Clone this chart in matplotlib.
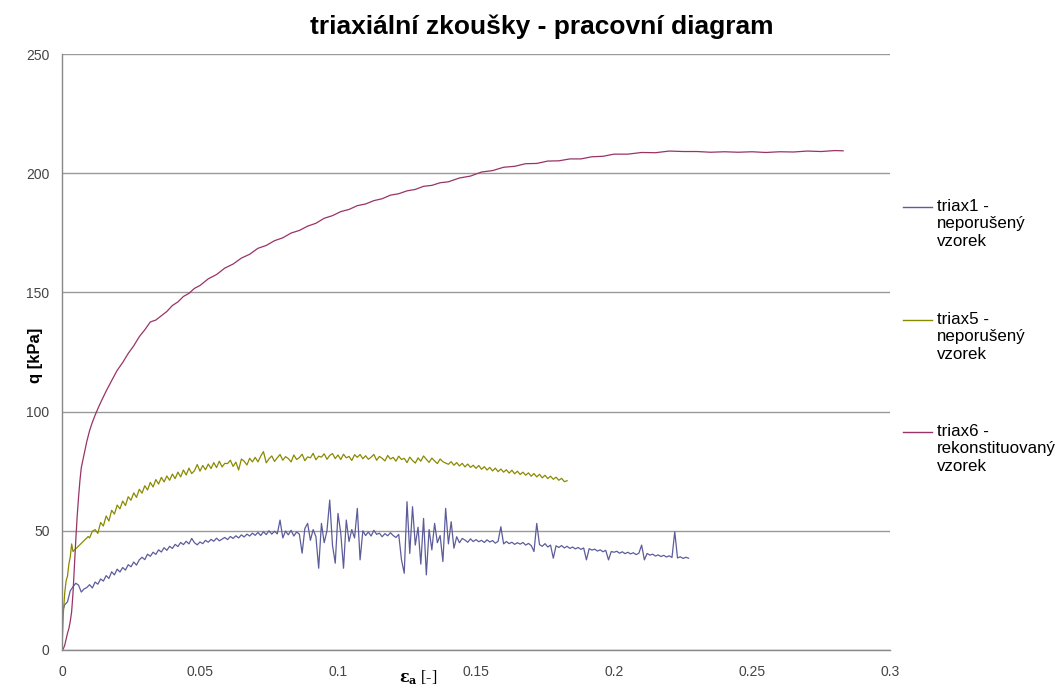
import matplotlib
matplotlib.use("Agg")
import matplotlib.pyplot as plt
from matplotlib.lines import Line2D

plt.rcParams['font.family'] = ['Liberation Sans', 'DejaVu Sans']
plt.rcParams['mathtext.fontset'] = 'dejavuserif'

## triax1 - neporušený vzorek
eps1 = [0.000, 0.001, 0.002, 0.003, 0.004, 0.005, 0.006, 0.007, 0.008, 0.009,
        0.010, 0.011, 0.012, 0.013, 0.014, 0.015, 0.016, 0.017, 0.018, 0.019,
        0.020, 0.021, 0.022, 0.023, 0.024, 0.025, 0.026, 0.027, 0.028, 0.029,
        0.030, 0.031, 0.032, 0.033, 0.034, 0.035, 0.036, 0.037, 0.038, 0.039,
        0.040, 0.041, 0.042, 0.043, 0.044, 0.045, 0.046, 0.047, 0.048, 0.049,
        0.050, 0.051, 0.052, 0.053, 0.054, 0.055, 0.056, 0.057, 0.058, 0.059,
        0.060, 0.061, 0.062, 0.063, 0.064, 0.065, 0.066, 0.067, 0.068, 0.069,
        0.070, 0.071, 0.072, 0.073, 0.074, 0.075, 0.076, 0.077, 0.078, 0.079,
        0.080, 0.081, 0.082, 0.083, 0.084, 0.085, 0.086, 0.087, 0.088, 0.089,
        0.090, 0.091, 0.092, 0.093, 0.094, 0.095, 0.096, 0.097, 0.098, 0.099,
        0.100, 0.101, 0.102, 0.103, 0.104, 0.105, 0.106, 0.107, 0.108, 0.109,
        0.110, 0.111, 0.112, 0.113, 0.114, 0.115, 0.116, 0.117, 0.118, 0.119,
        0.120, 0.121, 0.122, 0.123, 0.124, 0.125, 0.126, 0.127, 0.128, 0.129,
        0.130, 0.131, 0.132, 0.133, 0.134, 0.135, 0.136, 0.137, 0.138, 0.139,
        0.140, 0.141, 0.142, 0.143, 0.144, 0.145, 0.146, 0.147, 0.148, 0.149,
        0.150, 0.151, 0.152, 0.153, 0.154, 0.155, 0.156, 0.157, 0.158, 0.159,
        0.160, 0.161, 0.162, 0.163, 0.164, 0.165, 0.166, 0.167, 0.168, 0.169,
        0.170, 0.171, 0.172, 0.173, 0.174, 0.175, 0.176, 0.177, 0.178, 0.179,
        0.180, 0.181, 0.182, 0.183, 0.184, 0.185, 0.186, 0.187, 0.188, 0.189,
        0.190, 0.191, 0.192, 0.193, 0.194, 0.195, 0.196, 0.197, 0.198, 0.199,
        0.200, 0.201, 0.202, 0.203, 0.204, 0.205, 0.206, 0.207, 0.208, 0.209,
        0.210, 0.211, 0.212, 0.213, 0.214, 0.215, 0.216, 0.217, 0.218, 0.219,
        0.220, 0.221, 0.222, 0.223, 0.224, 0.225, 0.226, 0.227]
q1 = [15.4, 19.0, 20.2, 24.8, 26.5, 28.0, 27.2, 24.3, 25.6, 26.2,
      27.4, 26.0, 28.5, 27.6, 29.8, 28.9, 31.2, 30.0, 32.8, 31.5,
      33.9, 32.7, 34.6, 33.5, 35.8, 34.9, 36.9, 35.6, 37.8, 38.9,
      37.9, 40.2, 39.3, 41.0, 40.1, 42.0, 41.1, 42.9, 41.8, 43.5,
      42.6, 44.3, 43.4, 45.1, 44.2, 45.6, 44.5, 46.8, 45.0, 44.1,
      45.3, 44.6, 46.0, 45.2, 46.4, 45.6, 46.9, 45.8, 46.5, 47.2,
      46.3, 47.6, 46.8, 47.9, 47.0, 48.3, 47.4, 48.6, 47.8, 49.0,
      48.1, 49.3, 48.0, 49.6, 48.4, 50.0, 48.6, 49.8, 48.7, 54.5,
      47.0, 49.9, 48.3, 50.2, 47.8, 49.5, 48.6, 40.6, 51.0, 53.1,
      46.0, 50.5, 47.5, 34.3, 53.1, 45.0, 50.0, 62.9, 44.0, 36.4,
      57.3, 49.0, 34.3, 54.5, 45.5, 50.5, 47.0, 59.4, 37.8, 50.0,
      48.0, 49.5, 47.8, 50.2, 48.5, 49.0, 47.5, 48.8, 47.9, 49.2,
      48.0, 47.2, 48.5, 37.8, 32.2, 62.2, 40.5, 60.1, 44.0, 51.5,
      36.0, 55.2, 31.5, 50.5, 42.0, 53.1, 45.0, 48.0, 37.1, 59.4,
      44.5, 53.8, 42.7, 47.5, 45.0, 46.8, 46.1, 45.2, 46.6, 45.5,
      46.3, 45.4, 46.0, 45.1, 46.2, 45.3, 45.9, 44.8, 45.6, 51.7,
      44.5, 45.5, 44.6, 45.2, 44.3, 45.0, 44.4, 45.1, 44.0, 44.7,
      43.8, 41.3, 53.1, 44.2, 43.5, 44.6, 43.2, 44.0, 38.5, 43.7,
      43.0, 43.8, 42.8, 43.5, 42.6, 43.2, 42.4, 43.0, 42.2, 42.8,
      37.8, 42.5, 41.9, 42.3, 41.5, 42.0, 41.2, 41.8, 37.8, 41.3,
      41.0, 41.4, 40.6, 41.2, 40.4, 41.0, 40.3, 40.8, 40.0, 40.6,
      44.0, 37.8, 40.5, 39.8, 40.2, 39.4, 39.9, 39.2, 39.7, 39.0,
      39.5, 38.8, 49.6, 38.6, 39.1, 38.4, 38.9, 38.5]

## triax5 - neporušený vzorek
eps5 = [0.0000, 0.0005, 0.0010, 0.0015, 0.0020, 0.0025, 0.0030, 0.0035, 0.0040, 0.0095,
        0.010, 0.011, 0.012, 0.013, 0.014, 0.015, 0.016, 0.017, 0.018, 0.019,
        0.020, 0.021, 0.022, 0.023, 0.024, 0.025, 0.026, 0.027, 0.028, 0.029,
        0.030, 0.031, 0.032, 0.033, 0.034, 0.035, 0.036, 0.037, 0.038, 0.039,
        0.040, 0.041, 0.042, 0.043, 0.044, 0.045, 0.046, 0.047, 0.048, 0.049,
        0.050, 0.051, 0.052, 0.053, 0.054, 0.055, 0.056, 0.057, 0.058, 0.059,
        0.060, 0.061, 0.062, 0.063, 0.064, 0.065, 0.066, 0.067, 0.068, 0.069,
        0.070, 0.071, 0.072, 0.073, 0.074, 0.075, 0.076, 0.077, 0.078, 0.079,
        0.080, 0.081, 0.082, 0.083, 0.084, 0.085, 0.086, 0.087, 0.088, 0.089,
        0.090, 0.091, 0.092, 0.093, 0.094, 0.095, 0.096, 0.097, 0.098, 0.099,
        0.100, 0.101, 0.102, 0.103, 0.104, 0.105, 0.106, 0.107, 0.108, 0.109,
        0.110, 0.111, 0.112, 0.113, 0.114, 0.115, 0.116, 0.117, 0.118, 0.119,
        0.120, 0.121, 0.122, 0.123, 0.124, 0.125, 0.126, 0.127, 0.128, 0.129,
        0.130, 0.131, 0.132, 0.133, 0.134, 0.135, 0.136, 0.137, 0.138, 0.139,
        0.140, 0.141, 0.142, 0.143, 0.144, 0.145, 0.146, 0.147, 0.148, 0.149,
        0.150, 0.151, 0.152, 0.153, 0.154, 0.155, 0.156, 0.157, 0.158, 0.159,
        0.160, 0.161, 0.162, 0.163, 0.164, 0.165, 0.166, 0.167, 0.168, 0.169,
        0.170, 0.171, 0.172, 0.173, 0.174, 0.175, 0.176, 0.177, 0.178, 0.179,
        0.180, 0.181, 0.182, 0.183]
q5 = [0.0, 15.5, 24.0, 29.0, 31.0, 36.0, 39.0, 44.5, 41.3, 47.6,
      47.0, 49.8, 50.5, 48.9, 53.5, 52.0, 56.2, 54.1, 58.6, 57.0,
      60.8, 59.2, 62.5, 60.6, 64.3, 62.8, 65.9, 64.0, 67.4, 65.8,
      68.9, 67.1, 70.3, 68.4, 71.5, 69.6, 72.4, 70.5, 73.0, 71.2,
      73.8, 71.9, 74.6, 72.6, 75.5, 73.4, 76.3, 74.0, 75.2, 77.8,
      75.0, 77.4, 75.6, 78.0, 76.1, 78.6, 76.5, 79.2, 76.8, 78.3,
      78.2, 79.6, 77.0, 78.8, 75.5, 80.1, 79.2, 77.6, 80.4, 78.9,
      80.8, 78.9, 81.3, 83.2, 78.5, 80.2, 81.4, 79.1, 80.6, 82.0,
      79.6, 81.1, 80.3, 78.9, 81.8, 79.9, 80.7, 82.1, 79.4, 81.0,
      80.6, 82.5, 79.8, 81.3, 80.9, 82.3, 80.0, 81.6, 82.4, 80.3,
      81.8, 79.9, 82.1, 80.6, 81.2, 79.5, 81.9, 80.8, 82.0, 80.2,
      81.5, 80.0, 80.9, 82.0, 79.6, 81.2, 80.4, 79.3, 81.6, 80.1,
      80.8, 79.2, 81.3, 79.9, 80.4, 78.6, 80.9, 79.5, 78.4, 80.6,
      79.2, 81.4, 80.0, 78.7, 80.5, 79.3, 78.2, 80.1, 79.0, 78.4,
      77.9, 79.0, 77.5, 78.6, 77.2, 78.3, 76.8, 78.0, 76.6, 77.5,
      76.2, 77.4, 75.8, 76.9, 75.5, 76.6, 75.1, 76.3, 74.8, 75.9,
      74.6, 75.6, 74.2, 75.4, 73.9, 75.0, 73.6, 74.6, 73.3, 74.3,
      72.9, 74.0, 72.6, 73.7, 72.2, 73.3, 71.9, 72.9, 71.6, 72.5,
      71.2, 72.0, 70.6, 71.0]

## triax6 - rekonstituovaný vzorek
eps6 = [0.0000, 0.0005, 0.0010, 0.0015, 0.0020, 0.0025, 0.0030, 0.0035, 0.0040, 0.0045,
        0.0050, 0.0055, 0.0060, 0.0065, 0.0070, 0.0080, 0.0090, 0.0100, 0.0110, 0.0120,
        0.0130, 0.0140, 0.0150, 0.0160, 0.0180, 0.0200, 0.0220, 0.0240, 0.0260, 0.0280,
        0.0300, 0.0320, 0.0340, 0.0360, 0.0380, 0.0400, 0.0420, 0.0440, 0.0460, 0.0480,
        0.0500, 0.0530, 0.0560, 0.0590, 0.0620, 0.0650, 0.0680, 0.0710, 0.0740, 0.0770,
        0.0800, 0.0830, 0.0860, 0.0890, 0.0920, 0.0950, 0.0980, 0.1010, 0.1040, 0.1070,
        0.1100, 0.1130, 0.1160, 0.1190, 0.1220, 0.1250, 0.1280, 0.1310, 0.1340, 0.1370,
        0.1400, 0.1440, 0.1480, 0.1520, 0.1560, 0.1600, 0.1640, 0.1680, 0.1720, 0.1760,
        0.1800, 0.1840, 0.1880, 0.1920, 0.1960, 0.2000, 0.2050, 0.2100, 0.2150, 0.2200,
        0.2250, 0.2300, 0.2350, 0.2400, 0.2450, 0.2500, 0.2550, 0.2600, 0.2650, 0.2700,
        0.2750, 0.2800, 0.2830]
q6 = [0.0, 0.5, 2.0, 4.5, 7.0, 9.0, 12.0, 16.0, 24.0, 35.0,
      46.0, 56.0, 64.0, 71.0, 76.5, 82.0, 87.5, 92.0, 95.5, 98.5,
      101.2, 103.8, 106.2, 108.6, 113.0, 117.3, 120.6, 124.4, 127.6, 131.4,
      134.3, 137.6, 138.4, 140.2, 142.0, 144.5, 146.0, 148.3, 149.6, 151.7,
      152.9, 155.7, 157.5, 160.2, 161.9, 164.4, 166.0, 168.5, 169.7, 171.7,
      172.9, 174.9, 176.0, 177.8, 179.0, 181.1, 182.2, 183.9, 184.8, 186.4,
      187.1, 188.5, 189.3, 190.8, 191.4, 192.6, 193.2, 194.5, 194.9, 196.0,
      196.4, 198.0, 198.8, 200.5, 201.1, 202.5, 202.9, 204.0, 204.1, 205.1,
      205.2, 206.0, 206.0, 206.9, 207.1, 208.0, 208.0, 208.7, 208.6, 209.3,
      209.1, 209.1, 208.8, 209.0, 208.8, 209.0, 208.7, 209.0, 208.9, 209.3,
      209.1, 209.5, 209.4]

labels = ['triax1 -\nneporušený\nvzorek',
          'triax5 -\nneporušený\nvzorek',
          'triax6 -\nrekonstituovaný\nvzorek']
colors = ['#5c5c9c', '#8a8a00', '#993366']
yticks = [0, 50, 100, 150, 200, 250]
xticks = [0, 0.05, 0.1, 0.15, 0.2, 0.25, 0.3]

fig = plt.figure(figsize=(10.63, 6.90), dpi=100)
ax = fig.add_axes([0.0583, 0.058, 0.779, 0.8637])

series = [(eps1, q1), (eps5, q5), (eps6, q6)]
for (x, y), c in zip(series, colors):
    ax.plot(x, y, color=c, linewidth=0.9)

ax.set_xlim(0, 0.3)
ax.set_ylim(0, 250)
ax.set_xticks(xticks)
ax.set_xticklabels(['0', '0.05', '0.1', '0.15', '0.2', '0.25', '0.3'])
ax.set_yticks(yticks)
ax.tick_params(length=0, labelsize=10, colors='#444444', pad=9)
ax.tick_params(axis='x', pad=11)
ax.yaxis.grid(True, color='#999999', linewidth=1)
ax.set_axisbelow(True)
for side in ['top', 'right']:
    ax.spines[side].set_visible(False)
for side in ['left', 'bottom']:
    ax.spines[side].set_color('#888888')
    ax.spines[side].set_linewidth(1)

fig.text(0.5094, 0.961, 'triaxiální zkoušky - pracovní diagram',
         ha='center', va='center', fontsize=19, fontweight='bold')
fig.text(0.033, 0.485, 'q [kPa]', rotation=90, ha='center', va='center',
         fontsize=12, fontweight='bold')
fig.text(0.393, 0.018, r'$\mathbf{\varepsilon_a}$ [-]', ha='center', va='center',
         fontsize=11.5, family='Liberation Serif')

# legend on the right
leg_top = [207, 320, 432]
for lab, c, ty in zip(labels, colors, leg_top):
    yf = 1 - ty / 690
    fig.add_artist(Line2D([903 / 1063, 932 / 1063], [yf, yf], color=c, linewidth=1))
    fig.text(937 / 1063, yf + 0.012, lab, ha='left', va='top', fontsize=12.2,
             linespacing=1.22)

fig.savefig('out.png', dpi=100)
